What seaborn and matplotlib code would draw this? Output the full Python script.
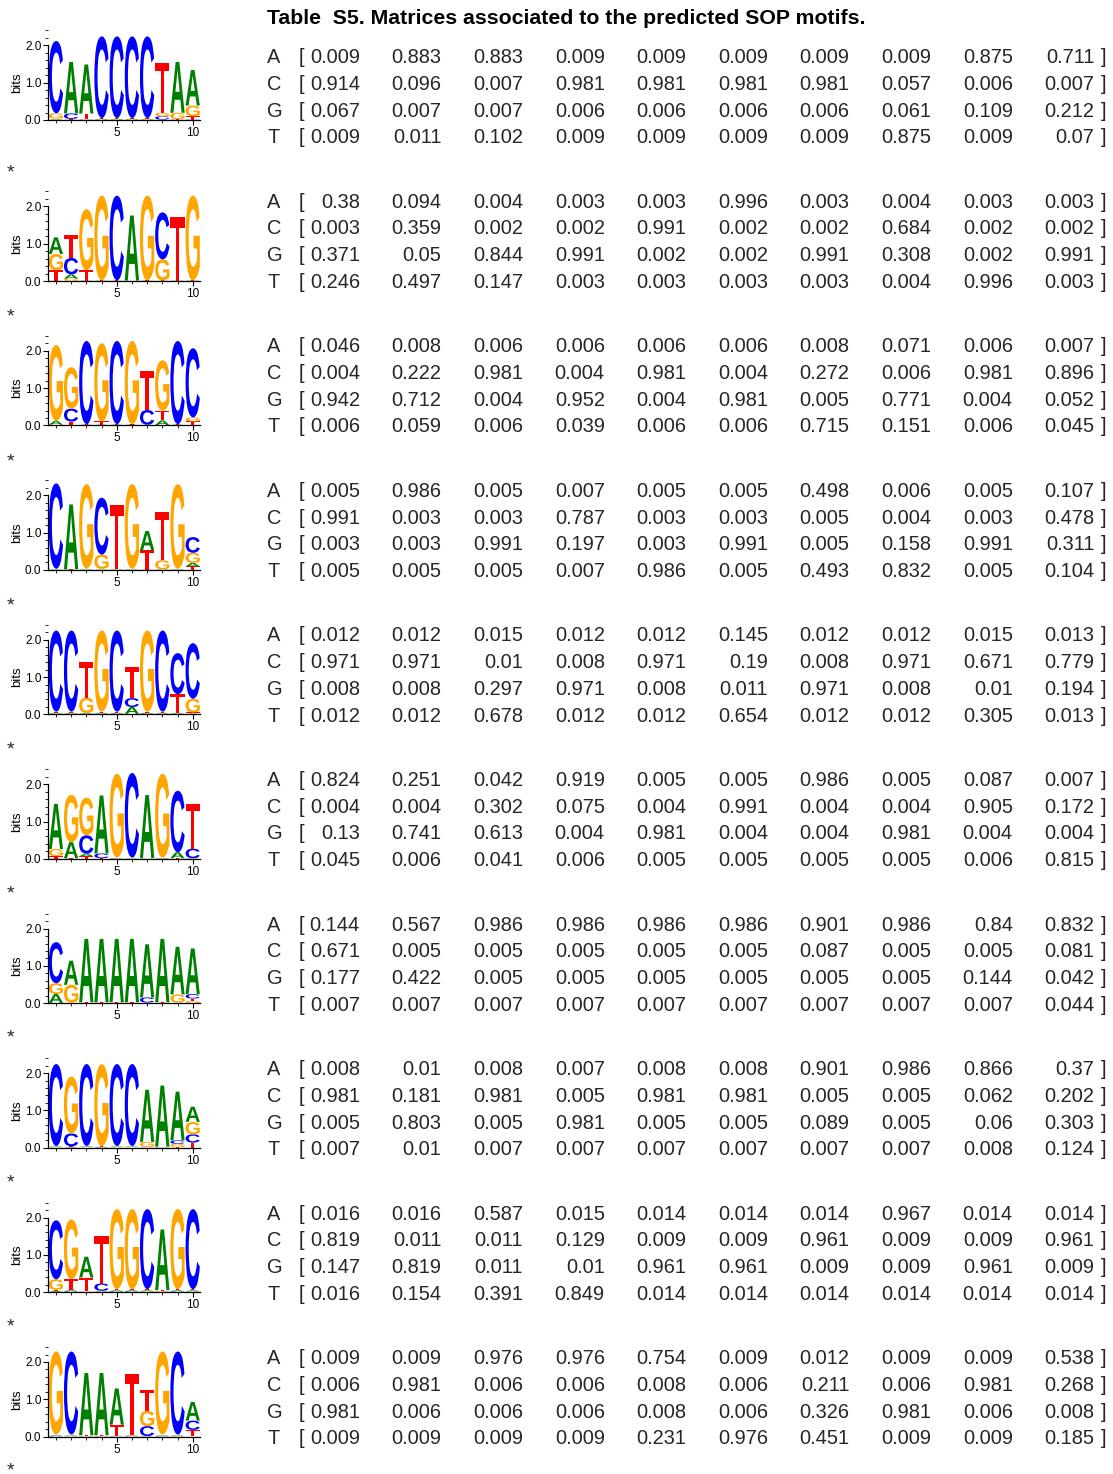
import numpy as np
import pandas as pd
import matplotlib
matplotlib.use("Agg")
import matplotlib.pyplot as plt
import seaborn as sns
from matplotlib.textpath import TextPath
from matplotlib.patches import PathPatch
from matplotlib.transforms import Affine2D
from matplotlib.font_manager import FontProperties
from matplotlib.ticker import MultipleLocator, FixedLocator

# ---------------- data ----------------
bases = ["A", "C", "G", "T"]
positions = list(range(1, 11))
title = "Table  S5. Matrices associated to the predicted SOP motifs."

m1_A = [0.009, 0.883, 0.883, 0.009, 0.009, 0.009, 0.009, 0.009, 0.875, 0.711]
m1_C = [0.914, 0.096, 0.007, 0.981, 0.981, 0.981, 0.981, 0.057, 0.006, 0.007]
m1_G = [0.067, 0.007, 0.007, 0.006, 0.006, 0.006, 0.006, 0.061, 0.109, 0.212]
m1_T = [0.009, 0.011, 0.102, 0.009, 0.009, 0.009, 0.009, 0.875, 0.009, 0.07]

m2_A = [0.38, 0.094, 0.004, 0.003, 0.003, 0.996, 0.003, 0.004, 0.003, 0.003]
m2_C = [0.003, 0.359, 0.002, 0.002, 0.991, 0.002, 0.002, 0.684, 0.002, 0.002]
m2_G = [0.371, 0.05, 0.844, 0.991, 0.002, 0.002, 0.991, 0.308, 0.002, 0.991]
m2_T = [0.246, 0.497, 0.147, 0.003, 0.003, 0.003, 0.003, 0.004, 0.996, 0.003]

m3_A = [0.046, 0.008, 0.006, 0.006, 0.006, 0.006, 0.008, 0.071, 0.006, 0.007]
m3_C = [0.004, 0.222, 0.981, 0.004, 0.981, 0.004, 0.272, 0.006, 0.981, 0.896]
m3_G = [0.942, 0.712, 0.004, 0.952, 0.004, 0.981, 0.005, 0.771, 0.004, 0.052]
m3_T = [0.006, 0.059, 0.006, 0.039, 0.006, 0.006, 0.715, 0.151, 0.006, 0.045]

m4_A = [0.005, 0.986, 0.005, 0.007, 0.005, 0.005, 0.498, 0.006, 0.005, 0.107]
m4_C = [0.991, 0.003, 0.003, 0.787, 0.003, 0.003, 0.005, 0.004, 0.003, 0.478]
m4_G = [0.003, 0.003, 0.991, 0.197, 0.003, 0.991, 0.005, 0.158, 0.991, 0.311]
m4_T = [0.005, 0.005, 0.005, 0.007, 0.986, 0.005, 0.493, 0.832, 0.005, 0.104]

m5_A = [0.012, 0.012, 0.015, 0.012, 0.012, 0.145, 0.012, 0.012, 0.015, 0.013]
m5_C = [0.971, 0.971, 0.01, 0.008, 0.971, 0.19, 0.008, 0.971, 0.671, 0.779]
m5_G = [0.008, 0.008, 0.297, 0.971, 0.008, 0.011, 0.971, 0.008, 0.01, 0.194]
m5_T = [0.012, 0.012, 0.678, 0.012, 0.012, 0.654, 0.012, 0.012, 0.305, 0.013]

m6_A = [0.824, 0.251, 0.042, 0.919, 0.005, 0.005, 0.986, 0.005, 0.087, 0.007]
m6_C = [0.004, 0.004, 0.302, 0.075, 0.004, 0.991, 0.004, 0.004, 0.905, 0.172]
m6_G = [0.13, 0.741, 0.613, 0.004, 0.981, 0.004, 0.004, 0.981, 0.004, 0.004]
m6_T = [0.045, 0.006, 0.041, 0.006, 0.005, 0.005, 0.005, 0.005, 0.006, 0.815]

m7_A = [0.144, 0.567, 0.986, 0.986, 0.986, 0.986, 0.901, 0.986, 0.84, 0.832]
m7_C = [0.671, 0.005, 0.005, 0.005, 0.005, 0.005, 0.087, 0.005, 0.005, 0.081]
m7_G = [0.177, 0.422, 0.005, 0.005, 0.005, 0.005, 0.005, 0.005, 0.144, 0.042]
m7_T = [0.007, 0.007, 0.007, 0.007, 0.007, 0.007, 0.007, 0.007, 0.007, 0.044]

m8_A = [0.008, 0.01, 0.008, 0.007, 0.008, 0.008, 0.901, 0.986, 0.866, 0.37]
m8_C = [0.981, 0.181, 0.981, 0.005, 0.981, 0.981, 0.005, 0.005, 0.062, 0.202]
m8_G = [0.005, 0.803, 0.005, 0.981, 0.005, 0.005, 0.089, 0.005, 0.06, 0.303]
m8_T = [0.007, 0.01, 0.007, 0.007, 0.007, 0.007, 0.007, 0.007, 0.008, 0.124]

m9_A = [0.016, 0.016, 0.587, 0.015, 0.014, 0.014, 0.014, 0.967, 0.014, 0.014]
m9_C = [0.819, 0.011, 0.011, 0.129, 0.009, 0.009, 0.961, 0.009, 0.009, 0.961]
m9_G = [0.147, 0.819, 0.011, 0.01, 0.961, 0.961, 0.009, 0.009, 0.961, 0.009]
m9_T = [0.016, 0.154, 0.391, 0.849, 0.014, 0.014, 0.014, 0.014, 0.014, 0.014]

m10_A = [0.009, 0.009, 0.976, 0.976, 0.754, 0.009, 0.012, 0.009, 0.009, 0.538]
m10_C = [0.006, 0.981, 0.006, 0.006, 0.008, 0.006, 0.211, 0.006, 0.981, 0.268]
m10_G = [0.981, 0.006, 0.006, 0.006, 0.008, 0.006, 0.326, 0.981, 0.006, 0.008]
m10_T = [0.009, 0.009, 0.009, 0.009, 0.231, 0.976, 0.451, 0.009, 0.009, 0.185]

# total stack height (bits) of each logo column, read from the logos
m1_bits = [2.12, 1.56, 1.49, 2.23, 2.23, 2.23, 2.23, 1.52, 1.56, 1.34]
m2_bits = [1.17, 1.23, 1.93, 2.29, 2.29, 1.75, 2.29, 1.84, 1.70, 2.29]
m3_bits = [2.16, 1.56, 2.27, 2.20, 2.27, 2.27, 1.45, 1.75, 2.27, 2.07]
m4_bits = [2.31, 1.76, 2.29, 1.94, 1.74, 2.29, 1.04, 1.54, 2.29, 0.88]
m5_bits = [2.24, 2.24, 1.40, 2.24, 2.24, 1.26, 2.24, 2.24, 1.64, 1.91]
m6_bits = [1.47, 1.71, 1.64, 1.69, 2.29, 2.29, 1.71, 2.29, 1.82, 1.48]
m7_bits = [1.64, 1.14, 1.72, 1.72, 1.72, 1.72, 1.58, 1.72, 1.52, 1.47]
m8_bits = [2.24, 1.90, 2.24, 2.24, 2.24, 2.24, 1.55, 1.66, 1.51, 1.10]
m9_bits = [1.93, 1.95, 0.95, 1.50, 2.23, 2.23, 2.23, 1.68, 2.23, 2.23]
m10_bits = [2.27, 2.27, 1.71, 1.71, 1.29, 1.69, 1.26, 2.27, 2.27, 0.93]

motifs = [
    (m1_A, m1_C, m1_G, m1_T, m1_bits),
    (m2_A, m2_C, m2_G, m2_T, m2_bits),
    (m3_A, m3_C, m3_G, m3_T, m3_bits),
    (m4_A, m4_C, m4_G, m4_T, m4_bits),
    (m5_A, m5_C, m5_G, m5_T, m5_bits),
    (m6_A, m6_C, m6_G, m6_T, m6_bits),
    (m7_A, m7_C, m7_G, m7_T, m7_bits),
    (m8_A, m8_C, m8_G, m8_T, m8_bits),
    (m9_A, m9_C, m9_G, m9_T, m9_bits),
    (m10_A, m10_C, m10_G, m10_T, m10_bits),
]

# ---------------- style ----------------
sns.set_theme(style="ticks")
plt.rcParams["font.family"] = ["Liberation Sans", "DejaVu Sans"]

base_colors = {"A": "#008000", "C": "#0000FF", "G": "#FFA500", "T": "#FF0000"}
glyph_fp = FontProperties(family="Liberation Sans", weight="bold")
glyphs = {b: TextPath((0, 0), b, size=1, prop=glyph_fp) for b in bases}

W, H = 1113, 1474
fig = plt.figure(figsize=(W / 100, H / 100), dpi=100)

# overlay in pixel coordinates for the text table
ov = fig.add_axes([0, 0, 1, 1])
ov.set_xlim(0, W)
ov.set_ylim(H, 0)
ov.axis("off")

TXT = 14.4
ov.text(267, 24, title, ha="left", va="baseline", fontsize=15.3,
        fontweight="bold", color="black")

px_per_bit = 37.3
ymax = 2.4
ax_left, ax_w = 48.3, 152.0


def draw_logo(ax, df, bits):
    for j, pos in enumerate(df.index):
        col = df.loc[pos].sort_values(kind="stable")
        y = 0.0
        for b, p in col.items():
            h = p * bits[j]
            path = glyphs[b]
            ext = path.get_extents()
            tr = (Affine2D()
                  .translate(-ext.x0, -ext.y0)
                  .scale(0.94 / ext.width, h / ext.height)
                  .translate(pos - 0.47, y))
            ax.add_patch(PathPatch(tr.transform_path(path),
                                   facecolor=base_colors[b], edgecolor="none",
                                   lw=0))
            y += h


for i, m in enumerate(motifs):
    df = pd.DataFrame({b: m[k] for k, b in enumerate(bases)}, index=positions)
    bits = m[4]

    zero_y = 120.0 if i == 0 else 281.0 + 144.45 * (i - 1)
    ax_h = ymax * px_per_bit
    rect = [ax_left / W, 1 - zero_y / H, ax_w / W, ax_h / H]
    ax = fig.add_axes(rect)
    draw_logo(ax, df, bits)
    ax.set_xlim(0.5, 10.5)
    ax.set_ylim(0, ymax)
    ax.set_facecolor("none")
    sns.despine(ax=ax)
    ax.spines["left"].set_bounds(0, 2.0)
    for s in ["left", "bottom"]:
        ax.spines[s].set_linewidth(0.9)
        ax.spines[s].set_color("black")
    ax.xaxis.set_major_locator(FixedLocator([5, 10]))
    ax.xaxis.set_minor_locator(MultipleLocator(1))
    ax.yaxis.set_major_locator(FixedLocator([0, 1, 2]))
    ax.yaxis.set_minor_locator(MultipleLocator(0.2))
    ax.set_yticklabels(["0.0", "1.0", "2.0"])
    ax.tick_params(which="major", length=3.5, width=0.8, labelsize=8.5,
                   pad=1.5, color="black", labelcolor="black", direction="out")
    ax.tick_params(which="minor", length=2, width=0.6, color="black",
                   direction="out")
    ov.text(17, zero_y - 1.0 * px_per_bit, "bits", rotation=90, ha="center",
            va="center", fontsize=9.5, color="black")

    # table
    row0 = 56 + 144.56 * i
    for r, b in enumerate(bases):
        yb = row0 + 26.7 * r + 7.2
        ov.text(267, yb, b, ha="left", va="baseline", fontsize=TXT)
        ov.text(301, yb, "[", ha="center", va="baseline", fontsize=TXT)
        for k, v in enumerate(m[r]):
            ov.text(360 + 81.6 * k, yb, f"{v:g}", ha="right", va="baseline",
                    fontsize=TXT)
        ov.text(1104, yb, "]", ha="center", va="baseline", fontsize=TXT)

    # asterisk below each logo
    ast_fs = 14
    em_px = ast_fs * 100 / 72
    ov.text(10, 167 + 144.2 * i + 0.55 * em_px, "*", ha="center",
            va="baseline", fontsize=ast_fs)

fig.savefig("out.png", dpi=100)
